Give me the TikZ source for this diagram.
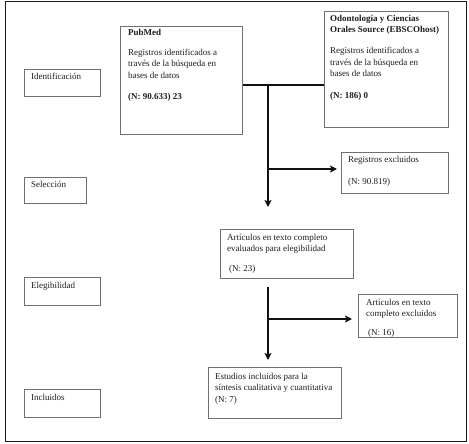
\documentclass[tikz,border=0pt]{standalone}
\usepackage{fontspec}
\setmainfont{Liberation Serif}
\usetikzlibrary{arrows.meta}
\definecolor{ink}{HTML}{1C1C1C}
\definecolor{boxline}{HTML}{707070}
\definecolor{flowline}{HTML}{111111}

\begin{document}
\begin{tikzpicture}[
  x=1pt, y=-1pt,
  font=\fontsize{9}{11.5}\selectfont,
  text=ink,
  box/.style={
    draw=boxline,
    line width=1pt,
    anchor=north west,
    inner sep=0pt
  },
  txt/.style={anchor=north west, inner sep=0pt, align=left},
  flow/.style={draw=flowline, line width=1.8pt},
  arrow/.style={flow, -{Stealth[length=7pt,width=7pt,inset=1.5pt]}}
]
\useasboundingbox (0,0) rectangle (469,444);
\draw[draw=ink, line width=1pt] (5,2) rectangle (466,441);

% Stage labels on the left
\node[box, minimum width=76pt, minimum height=27pt] (ident) at (24,69) {};
\node[box, minimum width=62pt, minimum height=26pt] (selec) at (24,177) {};
\node[box, minimum width=76pt, minimum height=28pt] (elegi) at (24,277) {};
\node[box, minimum width=76pt, minimum height=28pt] (inclu) at (24,389) {};

\node[txt] (ident-t) at ([shift={(7,4)}]ident.north west) {Identificación};
\node[txt] (selec-t) at ([shift={(7,4)}]selec.north west) {Selección};
\node[txt] (elegi-t) at ([shift={(7,5)}]elegi.north west) {Elegibilidad};
\node[txt] (inclu-t) at ([shift={(7,5)}]inclu.north west) {Incluidos};

% Database sources
\node[box, minimum width=122pt, minimum height=108pt] (pubmed) at (120,26) {};
\node[box, minimum width=124pt, minimum height=116pt] (odonto) at (324,11) {};

\node[txt] (pubmed-t) at ([shift={(8,3)}]pubmed.north west) {\textbf{PubMed}\\[8.5pt]Registros identificados a\\través de la búsqueda en\\bases de datos\\[10pt]\textbf{(N: 90.633) 23}};
\node[txt] (odonto-t) at ([shift={(6,4)}]odonto.north west) {\textbf{Odontología y Ciencias}\\\textbf{Orales Source (EBSCOhost)}\\[9.5pt]Registros identificados a\\través de la búsqueda en\\bases de datos\\[10.5pt]\textbf{(N: 186) 0}};

% Screening and eligibility
\node[box, minimum width=107pt, minimum height=41pt] (regexcl) at (341,152) {};
\node[box, minimum width=133pt, minimum height=49pt] (artic) at (220,229) {};
\node[box, minimum width=99pt, minimum height=43pt] (artexcl) at (358,294) {};
\node[box, minimum width=133pt, minimum height=51pt] (estud) at (208,367) {};

\node[txt] (regexcl-t) at ([shift={(7,4)}]regexcl.north west) {Registros excluidos\\[10.5pt](N: 90.819)};
\node[txt] (artic-t) at ([shift={(7,5)}]artic.north west) {Artículos en texto completo\\evaluados para elegibilidad\\[8.5pt]\hspace{2pt}(N: 23)};
\node[txt] (artexcl-t) at ([shift={(8,5)}]artexcl.north west) {Artículos en texto\\completo excluidos\\[7.5pt]\hspace{2pt}(N: 16)};
\node[txt] (estud-t) at ([shift={(7,6)}]estud.north west) {Estudios incluidos para la\\síntesis cualitativa y cuantitativa\\(N: 7)};

% Connectors
\coordinate (split1) at (268,85);
\coordinate (branch1) at (268,169);
\coordinate (stop1) at (268,207);
\coordinate (split2) at (268,287);
\coordinate (branch2) at (268,319);
\coordinate (stop2) at (268,360);

\draw[flow] (pubmed.east |- split1) -- (odonto.west |- split1);
\draw[arrow] (split1) -- (stop1);
\draw[arrow, shorten >=4pt] (branch1) -- (regexcl.west |- branch1);
\draw[arrow] (split2) -- (stop2);
\draw[arrow, shorten >=6pt] (branch2) -- (artexcl.west |- branch2);

\end{tikzpicture}
\end{document}
